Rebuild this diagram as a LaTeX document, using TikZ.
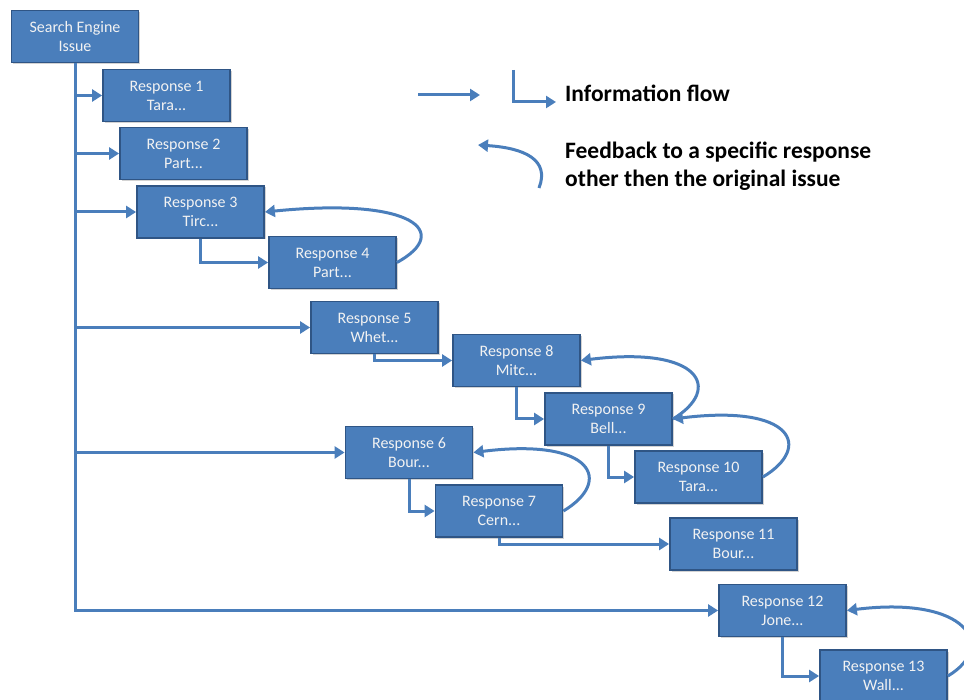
\documentclass[tikz,border=0pt]{standalone}
\usepackage{fontspec}
\setmainfont{Carlito}
\usetikzlibrary{arrows.meta,shadows}
\definecolor{boxblue}{HTML}{4A7EBB}
\definecolor{boxedge}{HTML}{2F5585}
\definecolor{arrblue}{HTML}{4A7EBB}
\begin{document}
\begin{tikzpicture}[x=1pt,y=-1pt,
  resp/.style={draw=boxedge, line width=1.8pt, fill=boxblue, text=white!90!gray,
    minimum width=127pt, minimum height=52pt, inner sep=0pt, align=center,
    font=\fontsize{16}{19}\selectfont,
    drop shadow={shadow xshift=1.5pt, shadow yshift=-1.5pt, opacity=0.35}},
  flow/.style={draw=arrblue, line width=3pt},
  flowarrow/.style={flow, -{Triangle[length=10pt,width=12pt]}},
  fb/.style={draw=arrblue, line width=3pt, -{Triangle[length=10pt,width=12pt]}},
  legendtext/.style={anchor=west, font=\fontsize{23.5}{28}\selectfont\bfseries, inner sep=0pt, align=left}]
\useasboundingbox (0,0) rectangle (964,700);
% nodes
\node[resp] (se)  at (75,36.5)    {Search Engine\\Issue};
\node[resp] (r1)  at (166.5,95.5) {Response 1\\Tara...};
\node[resp] (r2)  at (183.5,153.5){Response 2\\Part...};
\node[resp] (r3)  at (200.5,212)  {Response 3\\Tirc...};
\node[resp] (r4)  at (332.5,262.5){Response 4\\Part...};
\node[resp] (r5)  at (374.5,327.5){Response 5\\Whet...};
\node[resp] (r8)  at (516.5,360.5){Response 8\\Mitc...};
\node[resp] (r9)  at (608.5,419)  {Response 9\\Bell...};
\node[resp] (r6)  at (409,452.5)  {Response 6\\Bour...};
\node[resp] (r10) at (698.5,477)  {Response 10\\Tara...};
\node[resp] (r7)  at (499,511)    {Response 7\\Cern...};
\node[resp] (r11) at (733.5,544)  {Response 11\\Bour...};
\node[resp] (r12) at (782.5,610.5){Response 12\\Jone...};
\node[resp] (r13) at (883.5,676)  {Response 13\\Wall...};
% trunk and branches
\draw[flowarrow] (se.south) -- (se.south |- r12.west) -- (r12.west);
\draw[flowarrow] (se.south |- r1.west) -- (r1.west);
\draw[flowarrow] (se.south |- r2.west) -- (r2.west);
\draw[flowarrow] (se.south |- r3.west) -- (r3.west);
\draw[flowarrow] (se.south |- r5.west) -- (r5.west);
\draw[flowarrow] (se.south |- r6.west) -- (r6.west);
% steps
\draw[flowarrow] (r3.south) -- (r3.south |- r4.west) -- (r4.west);
\draw[flowarrow] (r5.south) -- (r5.south |- r8.west) -- (r8.west);
\draw[flowarrow] (r8.south) -- (r8.south |- r9.west) -- (r9.west);
\draw[flowarrow] (r9.south) -- (r9.south |- r10.west) -- (r10.west);
\draw[flowarrow] (r6.south) -- (r6.south |- r7.west) -- (r7.west);
\draw[flowarrow] (r7.south) -- (r7.south |- r11.west) -- (r11.west);
\draw[flowarrow] (r12.south) -- (r12.south |- r13.west) -- (r13.west);
% feedback
\draw[fb] (r4.east) .. controls +(55,-30) and +(150,-15) .. (r3.east);
\draw[fb] (r9.east) .. controls +(50,-30) and +(120,-15) .. (r8.east);
\draw[fb] (r10.east) .. controls +(50,-30) and +(120,-15) .. (r9.east);
\draw[fb] (r7.east) .. controls +(50,-30) and +(120,-15) .. (r6.east);
\draw[fb] (r13.east) .. controls +(50,-30) and +(120,-15) .. (r12.east);
% legend
\coordinate (l1a) at (418,95);
\coordinate (l1b) at (480,95);
\coordinate (l2a) at (513,70);
\coordinate (l2c) at (513,102);
\coordinate (l2b) at (556,102);
\coordinate (l3a) at (539,188);
\coordinate (l3b) at (478,145);
\draw[flowarrow] (l1a) -- (l1b);
\draw[flowarrow] (l2a) -- (l2c) -- (l2b);
\draw[fb] (l3a) .. controls (550,160) and (525,148) .. (l3b);
\node[legendtext] (t1) at (565,93) {Information flow};
\node[legendtext] (t2) at (565,166) {Feedback to a specific response\\other then the original issue};
\end{tikzpicture}
\end{document}
